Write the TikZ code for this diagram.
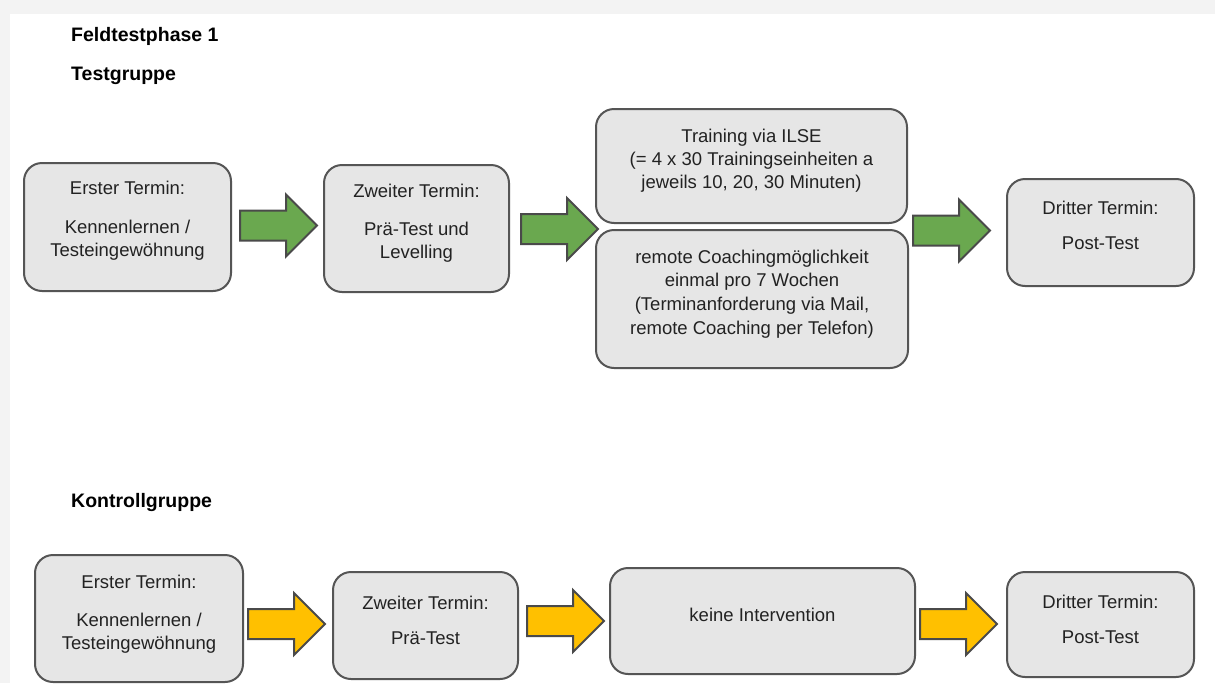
\documentclass[tikz,border=0pt]{standalone}
\usepackage{fontspec}
\setmainfont{Liberation Sans}
\definecolor{boxfill}{HTML}{E6E6E6}
\definecolor{boxline}{HTML}{555555}
\definecolor{arrline}{HTML}{4A4A4A}
\definecolor{arrgreen}{HTML}{6AA84F}
\definecolor{arryellow}{HTML}{FFC000}
\definecolor{txtc}{HTML}{222222}
\definecolor{framec}{HTML}{F3F3F3}
\tikzset{
  box/.style={draw=boxline, fill=boxfill, line width=2pt, rounded corners=18pt, inner sep=0pt},
  txt/.style={align=center, inner sep=0pt, anchor=north, text=txtc, font=\fontsize{18.5}{23}\selectfont},
  head/.style={anchor=base west, inner sep=0pt, text=black, font=\bfseries\fontsize{19.5}{23}\selectfont},
  barrow/.pic={\draw[line width=2pt, draw=arrline, fill=#1, line join=miter]
     (0,-15) -- (46,-15) -- (46,-31) -- (77,0) -- (46,31) -- (46,15) -- (0,15) -- cycle;}
}
\begin{document}
\begin{tikzpicture}[x=1pt,y=-1pt]
\useasboundingbox (0,0) rectangle (1215,683);
\fill[framec] (0,0) rectangle (1215,683);
\fill[white] (10,14) rectangle (1215,683);

% headings
\node[head] (h1) at (71,41.5) {Feldtestphase 1};
\node[head] (h2) at (71,80) {Testgruppe};
\node[head] (h3) at (71,507) {Kontrollgruppe};

% Testgruppe boxes
\node[box, minimum width=207pt, minimum height=128pt] (t1) at (127.5,227) {};
\node[txt] (t1t) at (t1.center |- 0,180.5) {Erster Termin:\\[16pt]Kennenlernen /\\Testeingewöhnung};

\node[box, minimum width=185pt, minimum height=127pt] (t2) at (416.5,228.5) {};
\node[txt] (t2t) at (t2.center |- 0,183.5) {Zweiter Termin:\\[15pt]Prä-Test und\\Levelling};

\node[box, minimum width=311pt, minimum height=114pt] (t3a) at (751.5,166) {};
\node[txt] (t3at) at (t3a.center |- 0,128.5) {Training via ILSE\\(= 4 x 30 Trainingseinheiten a\\jeweils 10, 20, 30 Minuten)};

\node[box, minimum width=312pt, minimum height=138pt] (t3b) at (752,299) {};
\node[txt, font=\fontsize{18.5}{23.7}\selectfont] (t3bt) at (t3b.center |- 0,249.5) {remote Coachingmöglichkeit\\einmal pro 7 Wochen\\(Terminanforderung via Mail,\\remote Coaching per Telefon)};

\node[box, minimum width=187pt, minimum height=107pt] (t4) at (1100.5,232.5) {};
\node[txt] (t4t) at (t4.center |- 0,200.5) {Dritter Termin:\\[12pt]Post-Test};

% Testgruppe arrows
\pic (a1) at (240,225.5) {barrow=arrgreen};
\pic (a2) at (521,229) {barrow=arrgreen};
\pic (a3) at (913,230.5) {barrow=arrgreen};

% Kontrollgruppe boxes
\node[box, minimum width=208pt, minimum height=127pt] (k1) at (139,618.5) {};
\node[txt] (k1t) at (k1.center |- 0,574.5) {Erster Termin:\\[15pt]Kennenlernen /\\Testeingewöhnung};

\node[box, minimum width=185pt, minimum height=107pt] (k2) at (425.5,625.5) {};
\node[txt] (k2t) at (k2.center |- 0,595.5) {Zweiter Termin:\\[12pt]Prä-Test};

\node[box, minimum width=305pt, minimum height=106pt] (k3) at (762.5,621) {};
\node[txt] (k3t) at (k3.center |- 0,607.5) {keine Intervention};

\node[box, minimum width=187pt, minimum height=105pt] (k4) at (1100.5,624.5) {};
\node[txt] (k4t) at (k4.center |- 0,594.5) {Dritter Termin:\\[12pt]Post-Test};

% Kontrollgruppe arrows
\pic (a4) at (248,624) {barrow=arryellow};
\pic (a5) at (527,621) {barrow=arryellow};
\pic (a6) at (920,624) {barrow=arryellow};
\end{tikzpicture}
\end{document}
